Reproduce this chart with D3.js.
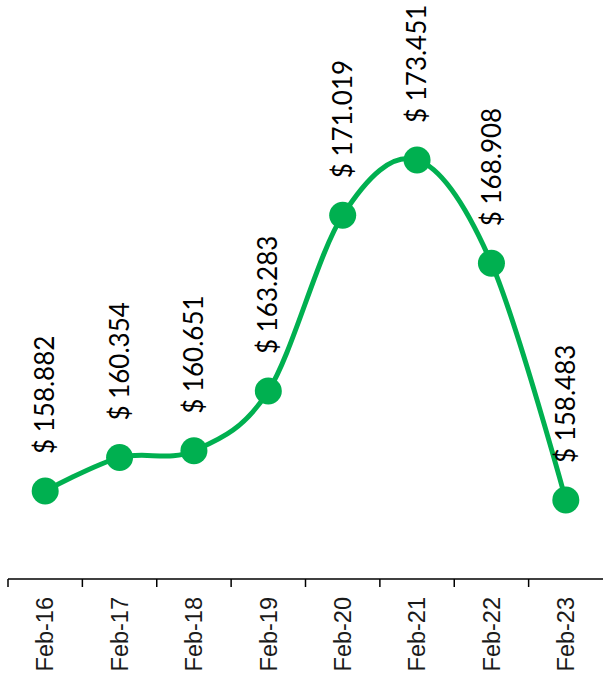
<!DOCTYPE html>
<meta charset="utf-8">
<script src="https://d3js.org/d3.v7.min.js"></script>
<style>
  body { margin: 0; background: #fff; }
</style>
<div id="chart"></div>
<script>

var months = ["Feb-16", "Feb-17", "Feb-18", "Feb-19", "Feb-20", "Feb-21", "Feb-22", "Feb-23"];
var prices = [158.882, 160.354, 160.651, 163.283, 171.019, 173.451, 168.908, 158.483];
var priceLabels = ["$ 158.882", "$ 160.354", "$ 160.651", "$ 163.283", "$ 171.019", "$ 173.451", "$ 168.908", "$ 158.483"];

var width = 603, height = 676;
var green = "#00b050";
var axisY = 579;

var svg = d3.select("#chart")
  .append("svg")
  .attr("width", width)
  .attr("height", height);

var x = d3.scaleBand()
  .domain(months)
  .range([8, 603])
  .padding(0);

// 158.882 -> 491, 173.451 -> 160
var y = d3.scaleLinear()
  .domain([150, 180])
  .range([692.8, 11.2]);

var cx = function(d, i) { return x(months[i]) + x.bandwidth() / 2; };

// axis line and ticks
svg.append("line")
  .attr("x1", 8).attr("x2", width)
  .attr("y1", axisY).attr("y2", axisY)
  .attr("stroke", "#000")
  .attr("stroke-width", 1.5);

svg.selectAll(".tick")
  .data(months)
  .enter()
  .append("line")
  .attr("x1", function(d) { return x(d); })
  .attr("x2", function(d) { return x(d); })
  .attr("y1", axisY)
  .attr("y2", axisY + 8)
  .attr("stroke", "#000")
  .attr("stroke-width", 1.5);

svg.selectAll(".xlab")
  .data(months)
  .enter()
  .append("text")
  .attr("transform", function(d) {
    return "translate(" + (x(d) + x.bandwidth() / 2) + "," + 597 + ") rotate(-90)";
  })
  .attr("dy", "0.35em")
  .attr("text-anchor", "end")
  .attr("font-family", "'Liberation Sans', Arial, sans-serif")
  .attr("font-size", 23.5)
  .attr("fill", "#1a1a1a")
  .text(function(d) { return d; });

// smoothed line
var line = d3.line()
  .x(cx)
  .y(function(d) { return y(d); })
  .curve(d3.curveCardinal.tension(0));

svg.append("path")
  .datum(prices)
  .attr("d", line)
  .attr("fill", "none")
  .attr("stroke", green)
  .attr("stroke-width", 5);

svg.selectAll(".dot")
  .data(prices)
  .enter()
  .append("circle")
  .attr("cx", cx)
  .attr("cy", function(d) { return y(d); })
  .attr("r", 13.5)
  .attr("fill", green);

svg.selectAll(".vlab")
  .data(prices)
  .enter()
  .append("text")
  .attr("transform", function(d, i) {
    return "translate(" + cx(d, i) + "," + (y(d) - 37) + ") rotate(-90)";
  })
  .attr("dy", "0.35em")
  .attr("text-anchor", "start")
  .attr("font-family", "Lato, 'Liberation Sans', sans-serif")
  .attr("font-weight", 400)
  .attr("font-size", 26)
  .attr("fill", "#000")
  .text(function(d, i) { return priceLabels[i]; });

</script>
